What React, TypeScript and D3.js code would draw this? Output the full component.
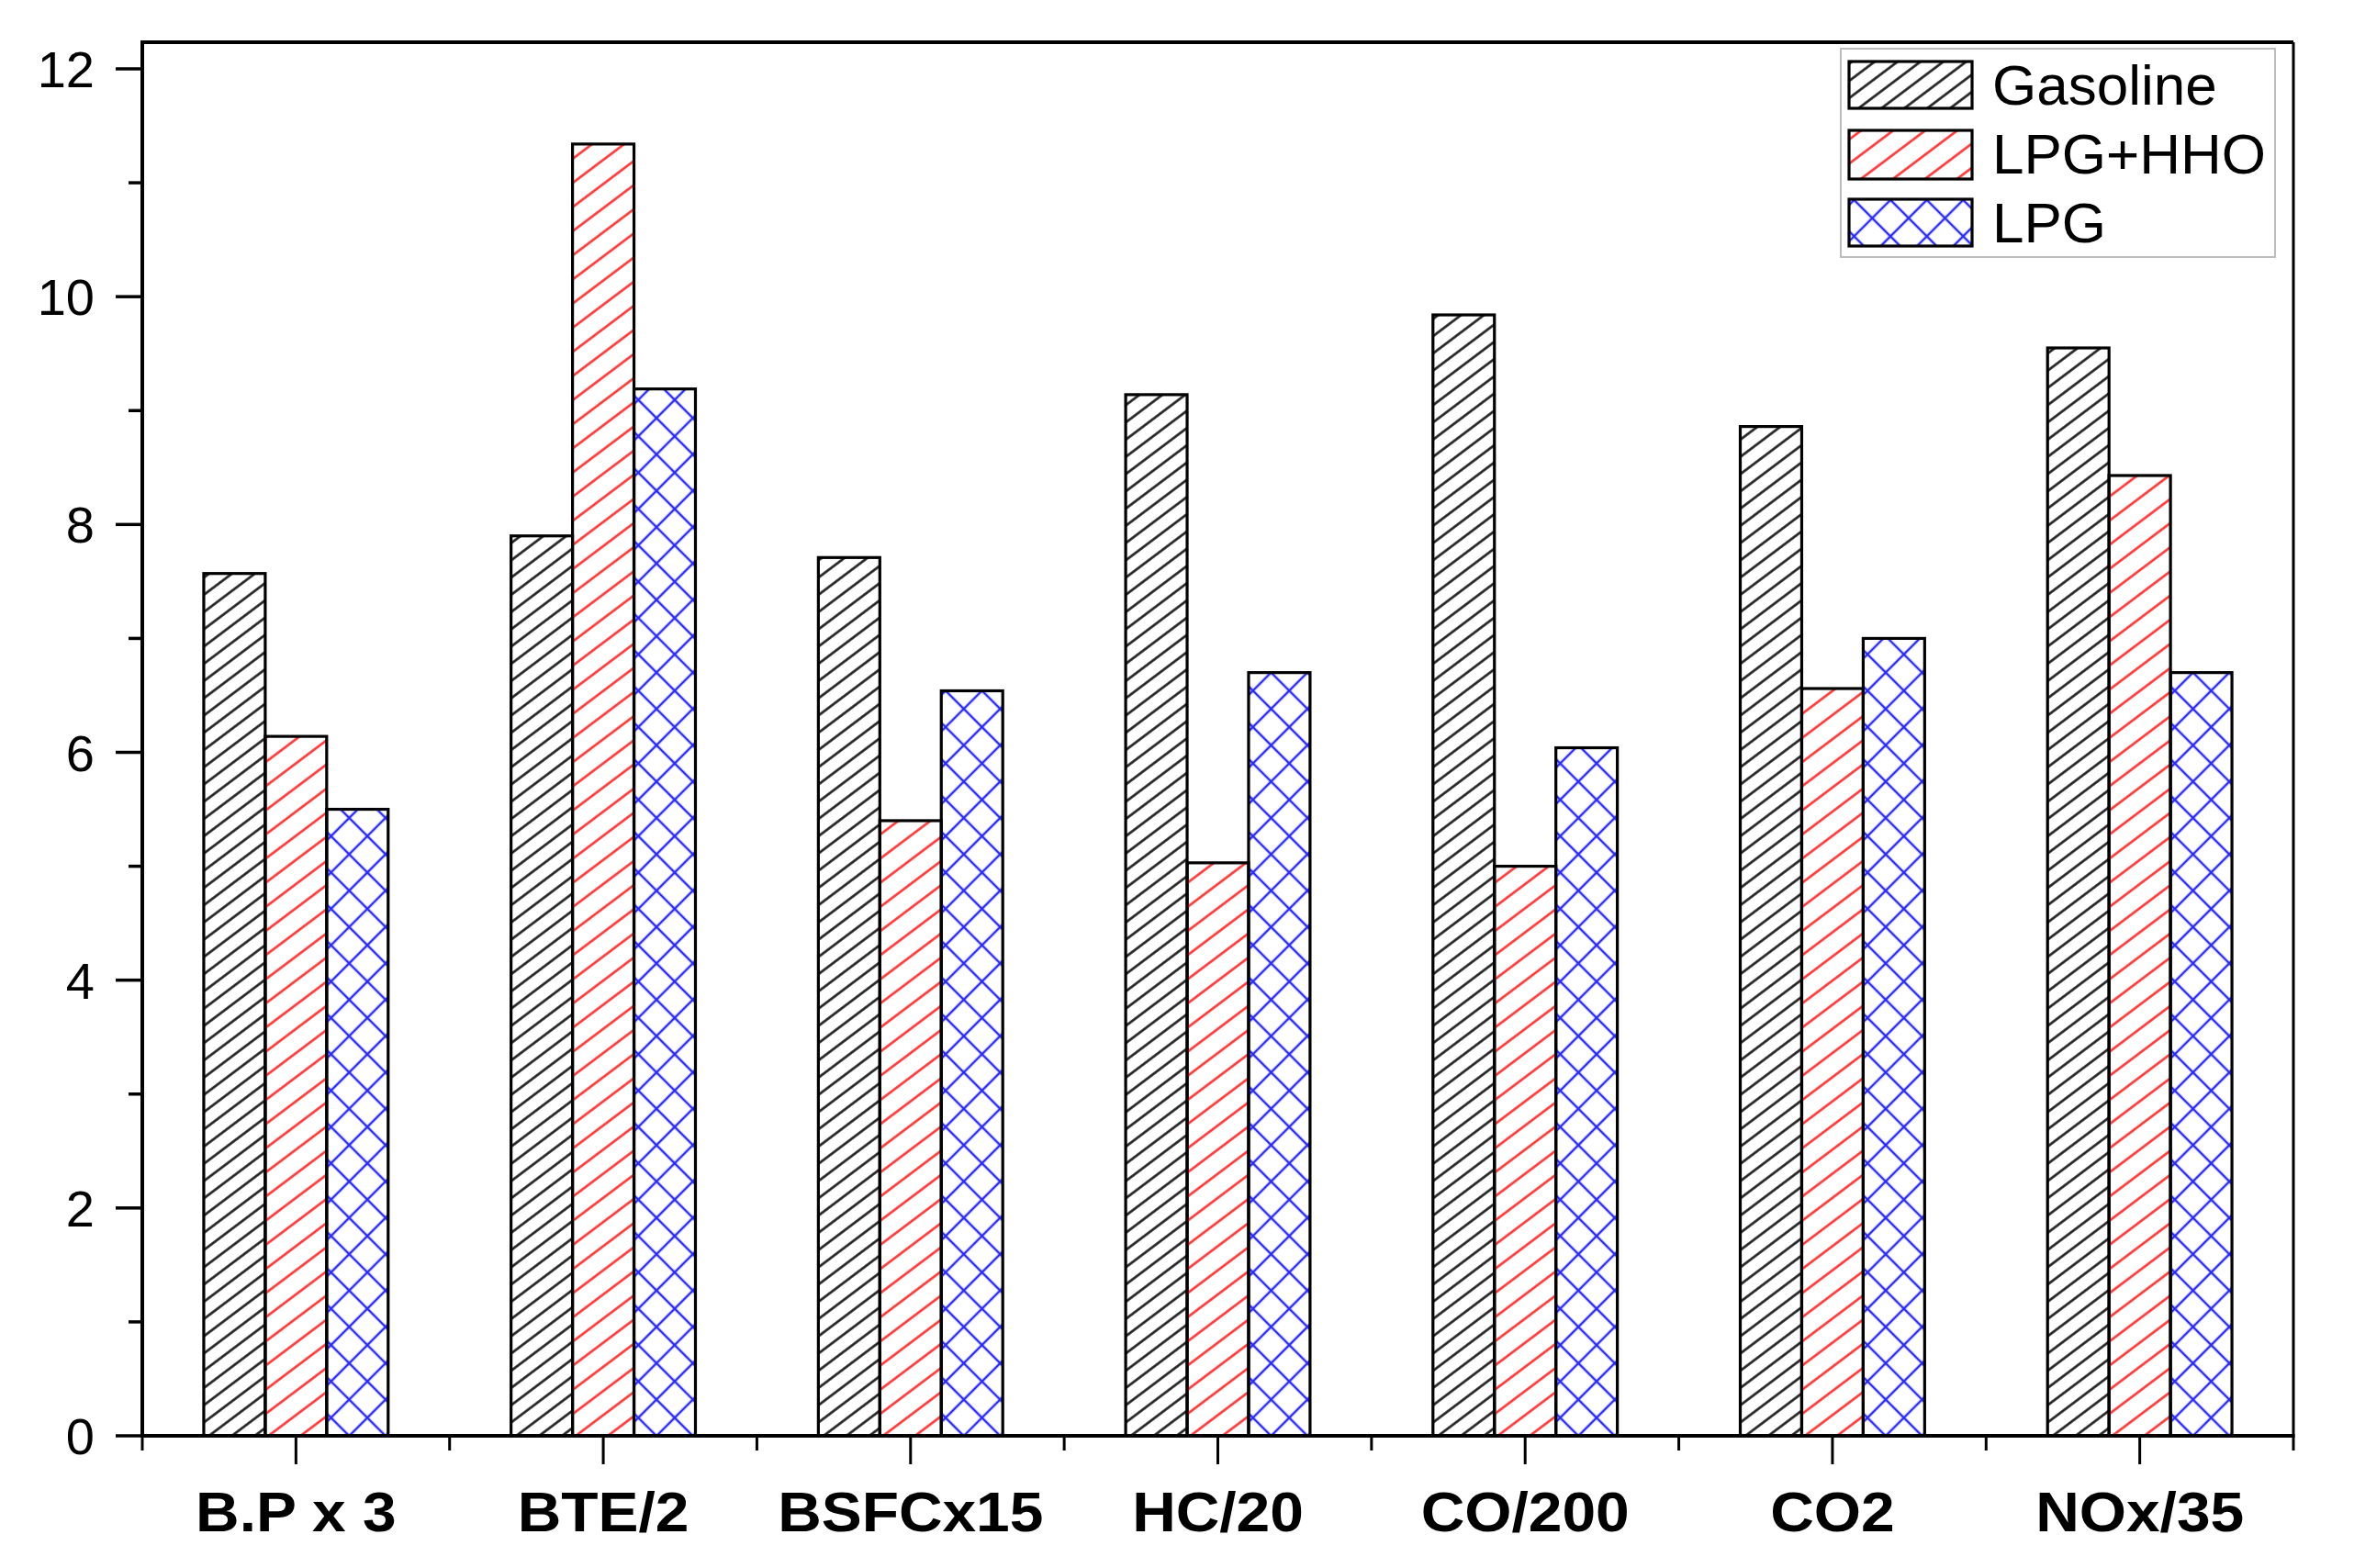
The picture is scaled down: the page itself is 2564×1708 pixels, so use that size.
import React from 'react';
import * as d3 from 'd3';

const categories = ['B.P x 3', 'BTE/2', 'BSFCx15', 'HC/20', 'CO/200', 'CO2', 'NOx/35'];
const seriesNames = ['Gasoline', 'LPG+HHO', 'LPG'];
const gasoline = [7.57, 7.9, 7.71, 9.14, 9.84, 8.86, 9.55];
const lpgHho = [6.14, 11.34, 5.4, 5.03, 5.0, 6.56, 8.43];
const lpg = [5.5, 9.19, 6.54, 6.7, 6.04, 7.0, 6.7];
const yMajorTicks = [0, 2, 4, 6, 8, 10, 12];
const yMinorTicks = [1, 3, 5, 7, 9, 11];

const W = 2564;
const H = 1708;
const FONT = '"Liberation Sans", Arial, sans-serif';

export default function App() {
  const left = 155;
  const right = 2498;
  const top = 46;
  const bottom = 1564;

  const x = d3
    .scaleBand<string>()
    .domain(categories)
    .range([left, right])
    .paddingInner(0.4)
    .paddingOuter(0.2);

  const sub = d3
    .scaleBand<string>()
    .domain(seriesNames)
    .range([0, x.bandwidth()]);

  // 0 at the axis, 12 at y=75
  const y = d3.scaleLinear().domain([0, 12]).range([bottom, 75]);

  const series = [gasoline, lpgHho, lpg];
  const fills = ['url(#hatchBlack)', 'url(#hatchRed)', 'url(#crossBlue)'];

  // band boundaries for the minor x ticks
  const step = x.step();
  const boundaries = d3.range(categories.length + 1).map((i) => left + i * step);

  const legendRows = [
    { top: 67, bottom: 118, base: 114 },
    { top: 142, bottom: 195, base: 189 },
    { top: 217, bottom: 268, base: 264 },
  ];

  return (
    <svg
      width={W}
      height={H}
      viewBox={`0 0 ${W} ${H}`}
      style={{ position: 'absolute', left: 0, top: 0, background: '#fff' }}
    >
      <defs>
        <pattern
          id="hatchBlack"
          patternUnits="userSpaceOnUse"
          width={20}
          height={15}
          patternTransform="rotate(-37)"
        >
          <line x1={0} y1={7.5} x2={20} y2={7.5} stroke="#1a1a1a" strokeWidth={2.6} />
        </pattern>
        <pattern
          id="hatchRed"
          patternUnits="userSpaceOnUse"
          width={20}
          height={21}
          patternTransform="rotate(-37)"
        >
          <line x1={0} y1={10.5} x2={20} y2={10.5} stroke="#ff2a2a" strokeWidth={2.5} />
        </pattern>
        <pattern
          id="crossBlue"
          patternUnits="userSpaceOnUse"
          width={28}
          height={28}
          patternTransform="rotate(45)"
        >
          <line x1={0} y1={14} x2={28} y2={14} stroke="#2a2aff" strokeWidth={2.5} />
          <line x1={14} y1={0} x2={14} y2={28} stroke="#2a2aff" strokeWidth={2.5} />
        </pattern>
      </defs>

      {/* bars */}
      {categories.map((c, i) => (
        <g key={c} transform={`translate(${x(c)},0)`}>
          {series.map((s, j) => (
            <rect
              key={seriesNames[j]}
              x={sub(seriesNames[j])}
              y={y(s[i])}
              width={sub.bandwidth()}
              height={bottom - y(s[i])}
              fill={fills[j]}
              stroke="#000"
              strokeWidth={3.2}
            />
          ))}
        </g>
      ))}

      {/* frame */}
      <line x1={left} y1={top} x2={right} y2={top} stroke="#000" strokeWidth={4} />
      <line x1={right} y1={top} x2={right} y2={bottom} stroke="#000" strokeWidth={3} />
      <line x1={left} y1={top - 2} x2={left} y2={bottom} stroke="#000" strokeWidth={4} />
      <line x1={left - 2} y1={bottom} x2={right + 1.5} y2={bottom} stroke="#000" strokeWidth={4} />

      {/* y axis ticks */}
      {yMajorTicks.map((t) => (
        <g key={t}>
          <line x1={left - 29} y1={y(t)} x2={left} y2={y(t)} stroke="#000" strokeWidth={3.5} />
          <text
            x={103}
            y={y(t)}
            dy="0.36em"
            textAnchor="end"
            fontFamily={FONT}
            fontSize={56}
            fill="#000"
          >
            {t}
          </text>
        </g>
      ))}
      {yMinorTicks.map((t) => (
        <line key={t} x1={left - 15} y1={y(t)} x2={left} y2={y(t)} stroke="#000" strokeWidth={3.5} />
      ))}

      {/* x axis ticks */}
      {boundaries.map((b, i) => (
        <line key={i} x1={b} y1={bottom} x2={b} y2={bottom + 16} stroke="#000" strokeWidth={3} />
      ))}
      {categories.map((c) => {
        const cx = (x(c) ?? 0) + x.bandwidth() / 2;
        return (
          <g key={c}>
            <line x1={cx} y1={bottom} x2={cx} y2={bottom + 31} stroke="#000" strokeWidth={3} />
            <text
              transform={`translate(${cx},1668) scale(1.08,1)`}
              textAnchor="middle"
              fontFamily={FONT}
              fontWeight="bold"
              fontSize={61}
              fill="#000"
            >
              {c}
            </text>
          </g>
        );
      })}

      {/* legend */}
      <rect x={2005} y={53} width={473} height={227} fill="#fff" stroke="#bdbdbd" strokeWidth={2} />
      {seriesNames.map((n, j) => (
        <g key={n}>
          <rect
            x={2014}
            y={legendRows[j].top}
            width={134}
            height={legendRows[j].bottom - legendRows[j].top}
            fill={fills[j]}
            stroke="#000"
            strokeWidth={3.2}
          />
          <text x={2170} y={legendRows[j].base} fontFamily={FONT} fontSize={62} fill="#000">
            {n}
          </text>
        </g>
      ))}
    </svg>
  );
}
